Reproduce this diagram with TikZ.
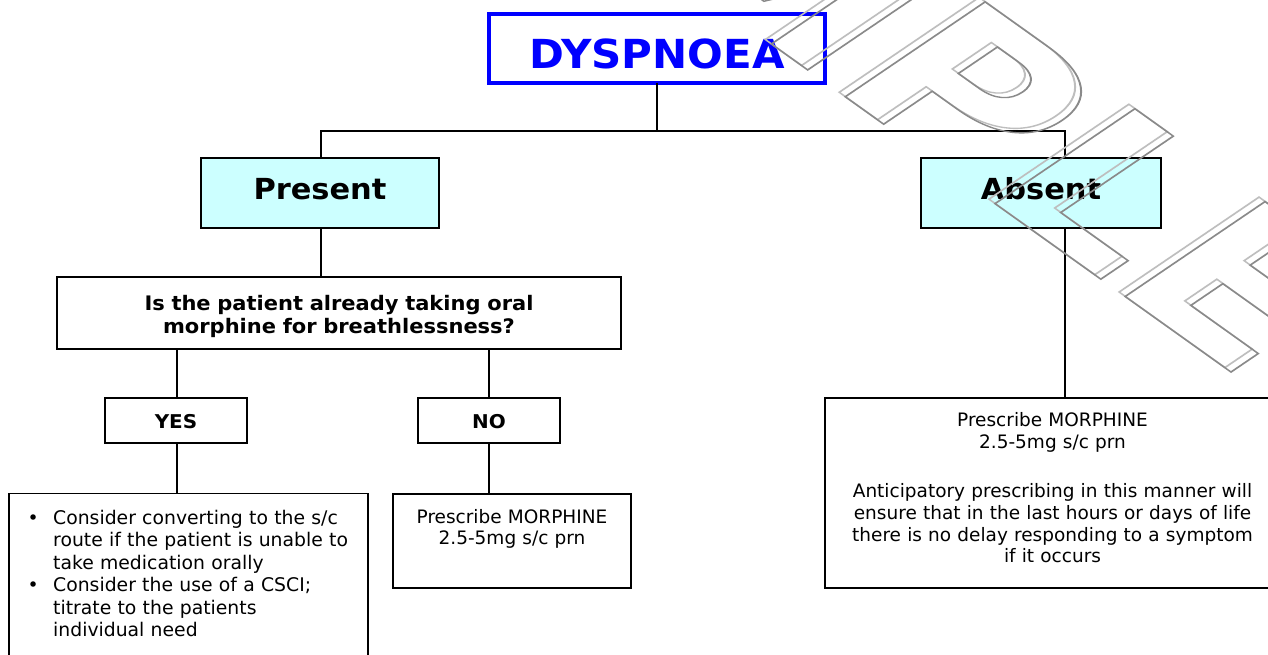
\documentclass[tikz,border=0pt]{standalone}
\usepackage{fontspec}
\setmainfont{DejaVu Sans}
\newfontfamily\vbold{DejaVu Sans Bold}[FakeStretch=1.05]
\newfontfamily\wmfont{DejaVu Sans Bold}
\definecolor{cyanfill}{HTML}{CCFFFF}
\definecolor{dysblue}{HTML}{0000FF}
\definecolor{wmlight}{HTML}{BEBEBE}
\definecolor{wmdark}{HTML}{8A8A8A}
\newcommand\outlinetext[1]{\special{pdf:literal direct 1 Tr 0.7 w}#1\special{pdf:literal direct 0 Tr}}
\begin{document}
\begin{tikzpicture}[x=1pt,y=-1pt,
  box/.style={draw=black, line width=1.8pt, rectangle, inner sep=0pt, outer sep=0pt},
  cyanbox/.style={box, fill=cyanfill},
  conn/.style={draw=black, line width=1.8pt},
  wm/.style={transform shape, anchor=base west, inner sep=0pt, outer sep=0pt,
    font=\wmfont\fontsize{100}{100}\selectfont}]
\useasboundingbox (0,0) rectangle (1268,655);
\fill[white] (0,0) rectangle (1268,655);
\clip (0,0) rectangle (1268,655);

% boxes
\node[box, draw=dysblue, line width=4pt, minimum width=335.4pt, minimum height=69.3pt,
  text height=39.9pt, text depth=0pt, text=dysblue,
  font=\vbold\fontsize{40}{40}\selectfont] (dys) at (657,48.35) {DYSPNOEA};

\node[cyanbox, minimum width=238pt, minimum height=70pt, text height=14pt, text depth=0pt,
  font=\vbold\fontsize{29}{29}\selectfont] (pres) at (320,193) {Present};
\node[cyanbox, minimum width=240pt, minimum height=70pt, text height=14pt, text depth=0pt,
  font=\vbold\fontsize{29}{29}\selectfont] (abs) at (1041,193) {Absent};

\node[box, minimum width=564pt, minimum height=72.6pt, text width=550pt, align=center,
  text height=0pt, text depth=6pt, font=\vbold\fontsize{20}{23}\selectfont] (q) at (339,313)
  {Is the patient already taking oral\\morphine for breathlessness?};

\node[box, minimum width=142pt, minimum height=45pt, text height=15.6pt, text depth=0pt,
  font=\vbold\fontsize{19}{19}\selectfont] (yes) at (176,420.5) {YES};
\node[box, minimum width=142pt, minimum height=45pt, text height=15.6pt, text depth=0pt,
  font=\vbold\fontsize{19}{19}\selectfont] (no) at (489,420.5) {NO};

\node[box, minimum width=238pt, minimum height=94pt, text width=230pt, align=center,
  text height=0pt, text depth=35.4pt, font=\fontsize{18.5}{21}\selectfont] (nores) at (512,541)
  {Prescribe MORPHINE\\2.5-5mg s/c prn};

\node[box, minimum width=455pt, minimum height=190pt, text width=440pt, align=center,
  text height=0pt, text depth=132.6pt, font=\fontsize{18.5}{21.6}\selectfont] (absres) at (1052.5,493)
  {Prescribe MORPHINE\\2.5-5mg s/c prn\\[28pt]Anticipatory prescribing in this manner will\\ensure that in the last hours or days of life\\there is no delay responding to a symptom\\if it occurs};

\node[box, minimum width=359pt, minimum height=176.5pt] (yesres) at (188.5,581.75) {};
\node[anchor=base west, inner sep=0pt, text width=320pt, align=left,
  font=\fontsize{18.8}{22.5}\selectfont] (yestext) at (53,524.3)
  {\leavevmode\llap{\textbullet\hspace{14.6pt}}Consider converting to the s/c\\route if the patient is unable to\\take medication orally\\\leavevmode\llap{\textbullet\hspace{14.6pt}}Consider the use of a CSCI;\\titrate to the patients\\individual need};

% connectors
\coordinate (j1) at (657,131);
\draw[conn] (dys.south) -- (j1);
\draw[conn] ([xshift=1pt]pres.north) |- (j1) -| ([xshift=24pt]abs.north);
\draw[conn] ([xshift=1pt]pres.south) -- ([xshift=1pt]pres.south |- q.north);
\draw[conn] ([xshift=1pt]yes.north) -- ([xshift=1pt]yes.north |- q.south);
\draw[conn] (no.north) -- (no.north |- q.south);
\draw[conn] ([xshift=1pt]yes.south) -- ([xshift=1pt]yes.south |- yesres.north);
\draw[conn] (no.south) -- (no.south |- nores.north);
\draw[conn] ([xshift=24pt]abs.south) -- ([xshift=24pt]abs.south |- absres.north);

% watermark (outlined, two offset copies)
\begin{scope}[cm={2.043,-1.458,1.919,1.302,(312,-284)}]
  \node[wm, text=wmlight] (wmf) at (0,0) {\outlinetext{SAMPLE}};
\end{scope}
\begin{scope}[cm={2.043,-1.458,1.919,1.302,(318,-279.5)}]
  \node[wm, text=wmdark] (wmb) at (0,0) {\outlinetext{SAMPLE}};
\end{scope}
\end{tikzpicture}
\end{document}
